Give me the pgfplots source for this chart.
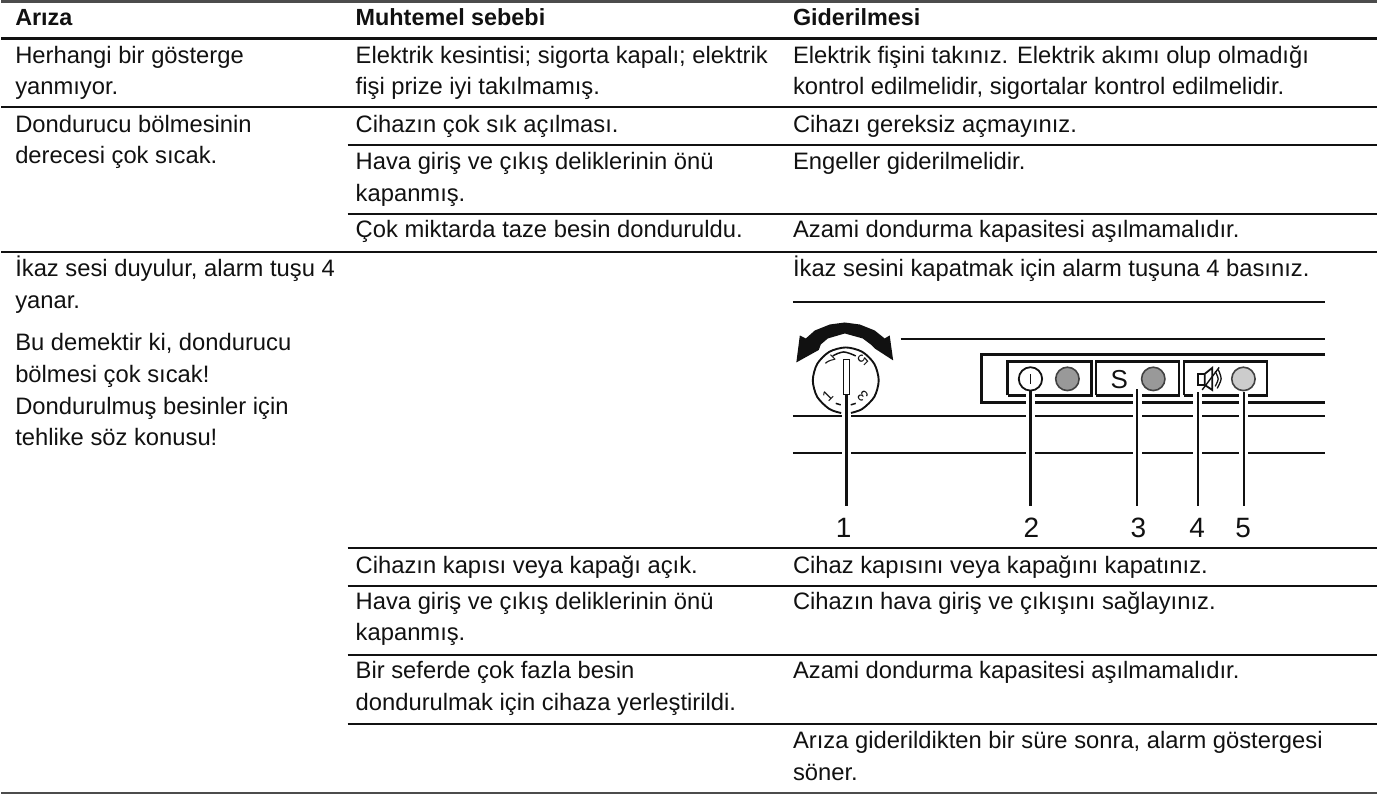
\documentclass[border=0pt]{standalone}
\usepackage{fontspec}
\setmainfont{Liberation Sans}
\usepackage{pgfplots}
\pgfplotsset{compat=1.18}
\definecolor{ink}{HTML}{111111}
\newcommand{\T}[3]{\node[anchor=base west,inner sep=0pt,text=ink,font=\fontsize{23.8}{28}\selectfont] at (axis cs:#1,#2) {#3};}
\newcommand{\B}[3]{\node[anchor=base west,inner sep=0pt,text=ink,font=\fontsize{23.4}{28}\selectfont\bfseries] at (axis cs:#1,#2) {#3};}
\newcommand{\N}[2]{\node[anchor=base,inner sep=0pt,text=ink,font=\fontsize{28}{30}\selectfont] at (axis cs:#1,538) {#2};}
\newcommand{\D}[4]{\node[rotate=#3,inner sep=0pt,text=ink,font=\fontsize{15}{16}\selectfont] at (axis cs:#1,#2) {#4};}
\begin{document}
\begin{tikzpicture}
\begin{axis}[
  hide axis, scale only axis, width=1378pt, height=798pt,
  xmin=0, xmax=1378, ymin=0, ymax=798, y dir=reverse,
  clip=false,
  every axis plot/.append style={forget plot}]
\path (axis cs:0,0) rectangle (axis cs:1378,798);
% table rules
\addplot[color=ink!75,line width=2.2pt] coordinates {(0,1.5) (1378,1.5)};
\addplot[color=ink,line width=2.2pt] coordinates {(0,38.5) (1378,38.5)};
\addplot[color=ink,line width=2.2pt] coordinates {(0,107.5) (1378,107.5)};
\addplot[color=ink,line width=1.9pt] coordinates {(347,145.5) (1378,145.5)};
\addplot[color=ink,line width=1.9pt] coordinates {(347,214) (1378,214)};
\addplot[color=ink,line width=2.2pt] coordinates {(0,252) (1378,252)};
\addplot[color=ink,line width=1.9pt] coordinates {(347,549) (1378,549)};
\addplot[color=ink,line width=1.9pt] coordinates {(347,587) (1378,587)};
\addplot[color=ink,line width=1.9pt] coordinates {(347,656) (1378,656)};
\addplot[color=ink,line width=1.9pt] coordinates {(347,725) (1378,725)};
\addplot[color=ink!75,line width=2.2pt] coordinates {(0,794) (1378,794)};
% drawing: long lines
\addplot[color=ink,line width=2pt] coordinates {(793,302) (1326,302)};
\addplot[color=ink,line width=2pt] coordinates {(901,340) (1326,340)};
\addplot[color=ink,line width=2pt] coordinates {(793,416.5) (1326,416.5)};
\addplot[color=ink,line width=2pt] coordinates {(793,454) (1326,454)};
\addplot[color=ink,line width=2.4pt] coordinates {(1326,355) (982,355) (982,403) (1326,403)};
\addplot[color=ink,line width=2.4pt] coordinates {(1008,396) (1008,362) (1092,362) (1092,396) (1008,396)};
\addplot[color=ink,line width=2.4pt] coordinates {(1096.5,396) (1096.5,362) (1180,362) (1180,396) (1096.5,396)};
\addplot[color=ink,line width=2.4pt] coordinates {(1184.5,396) (1184.5,362) (1268,362) (1268,396) (1184.5,396)};
% halos of leader lines
\addplot[color=white,line width=9pt] coordinates {(1031,393) (1031,460)};
\addplot[color=white,line width=9pt] coordinates {(1138,393) (1138,460)};
\addplot[color=white,line width=9pt] coordinates {(1198.5,393) (1198.5,460)};
\addplot[color=white,line width=9pt] coordinates {(1244.5,393) (1244.5,460)};
\addplot[color=white,line width=9pt] coordinates {(846.7,410) (846.7,460)};
% arrow over knob
\addplot[fill=ink,draw=none] coordinates {(796.5,363) (800,336) (806,339) (815,331) (830,325) (845,323) (860,325) (875,331) (885,339) (890,336) (893.5,361) (875,349) (871,345) (863,339) (845,334) (828,339) (821,345) (819,350.5)} -- cycle;
% knob
\addplot[color=ink,line width=1.9pt,smooth] coordinates {(851.2,413.6) (862.5,409.6) (874.6,397.5) (879,381) (874.6,364.5) (862.5,352.4) (846,348) (829.5,352.4) (817.4,364.5) (813,381) (817.4,397.5) (829.5,409.6) (841.4,413.7)};
\addplot[color=ink,line width=1.5pt,smooth] coordinates {(833,356.5) (838,354) (844,352.5) (850,354) (856,356.5)};
\addplot[color=ink,line width=1.5pt] coordinates {(836,404) (841,405.5)};
\addplot[color=ink,line width=1.5pt] coordinates {(851,405.5) (856,404)};
\addplot[color=ink,line width=1.4pt,fill=white] coordinates {(843.5,360) (849.5,360) (849.5,395) (843.5,395) (843.5,360)};
\D{830}{361}{-45}{7}
\D{863}{361}{-135}{5}
\D{828}{397}{45}{1}
\D{863}{397}{135}{3}
\node[inner sep=0pt,text=ink,anchor=base,font=\fontsize{26}{27}\selectfont] at (axis cs:1120,389) {S};
% speaker
\addplot[color=ink,line width=1.8pt] coordinates {(1205.5,374.5) (1198.5,374.5) (1198.5,385.5) (1205.5,385.5)};
\addplot[color=ink,line width=1.8pt] coordinates {(1205.5,385.5) (1205.5,374.5) (1213,368.5) (1213,390.5) (1205.5,385.5)};
\addplot[color=ink,line width=1.4pt] coordinates {(1203,390.5) (1220,368)};
\addplot[color=ink,line width=1.3pt,smooth] coordinates {(1216,372) (1219,379.5) (1216,387)};
\addplot[color=ink,line width=1.3pt,smooth] coordinates {(1219,370) (1222,379.5) (1218,389)};
% leaders
\addplot[color=ink,line width=2.2pt] coordinates {(846.7,395) (846.7,506.5)};
\addplot[color=ink,line width=2.2pt] coordinates {(1031,391) (1031,506.5)};
\addplot[color=ink,line width=2.2pt] coordinates {(1138,390) (1138,506.5)};
\addplot[color=ink,line width=2.2pt] coordinates {(1198.5,393) (1198.5,506.5)};
\addplot[color=ink,line width=2.2pt] coordinates {(1244.5,393) (1244.5,506.5)};
% lamps
\addplot[only marks,mark=*,mark size=11.7,mark options={draw=ink,fill=white,line width=1.8pt}] coordinates {(1031,379.5)};
\addplot[only marks,mark=|,mark size=5,mark options={draw=ink,line width=1.8pt}] coordinates {(1031,380)};
\addplot[only marks,mark=*,mark size=11.7,mark options={draw=ink!80,fill=black!40,line width=1.6pt}] coordinates {(1068,379.5) (1154,379.5)};
\addplot[only marks,mark=*,mark size=11.7,mark options={draw=ink!80,fill=black!20,line width=1.6pt}] coordinates {(1244.3,379.5)};
\N{844}{1}\N{1032}{2}\N{1139}{3}\N{1198}{4}\N{1244}{5}
% text
\B{14}{26}{Arıza}
\B{355}{26}{Muhtemel sebebi}
\B{793}{26}{Giderilmesi}
\T{14}{63.3}{Herhangi bir gösterge}
\T{14}{95}{yanmıyor.}
\T{355}{63.3}{Elektrik kesintisi; sigorta kapalı; elektrik}
\T{355}{95}{fişi prize iyi takılmamış.}
\T{793}{63.3}{Elektrik fişini takınız. Elektrik akımı olup olmadığı}
\T{793}{95}{kontrol edilmelidir, sigortalar kontrol edilmelidir.}
\T{14}{132.3}{Dondurucu bölmesinin}
\T{14}{164}{derecesi çok sıcak.}
\T{355}{132.3}{Cihazın çok sık açılması.}
\T{793}{132.3}{Cihazı gereksiz açmayınız.}
\T{355}{170}{Hava giriş ve çıkış deliklerinin önü}
\T{355}{201.7}{kapanmış.}
\T{793}{170}{Engeller giderilmelidir.}
\T{355}{238}{Çok miktarda taze besin donduruldu.}
\T{793}{238}{Azami dondurma kapasitesi aşılmamalıdır.}
\T{14}{277}{İkaz sesi duyulur, alarm tuşu 4}
\T{14}{309}{yanar.}
\T{14}{351.5}{Bu demektir ki, dondurucu}
\T{14}{383}{bölmesi çok sıcak!}
\T{14}{415}{Dondurulmuş besinler için}
\T{14}{446.7}{tehlike söz konusu!}
\T{793}{277}{İkaz sesini kapatmak için alarm tuşuna 4 basınız.}
\T{355}{574}{Cihazın kapısı veya kapağı açık.}
\T{793}{574}{Cihaz kapısını veya kapağını kapatınız.}
\T{355}{610.5}{Hava giriş ve çıkış deliklerinin önü}
\T{355}{642}{kapanmış.}
\T{793}{610.5}{Cihazın hava giriş ve çıkışını sağlayınız.}
\T{355}{679.5}{Bir seferde çok fazla besin}
\T{355}{711.5}{dondurulmak için cihaza yerleştirildi.}
\T{793}{679.5}{Azami dondurma kapasitesi aşılmamalıdır.}
\T{793}{749.3}{Arıza giderildikten bir süre sonra, alarm göstergesi}
\T{793}{781.5}{söner.}
\end{axis}
\end{tikzpicture}
\end{document}
